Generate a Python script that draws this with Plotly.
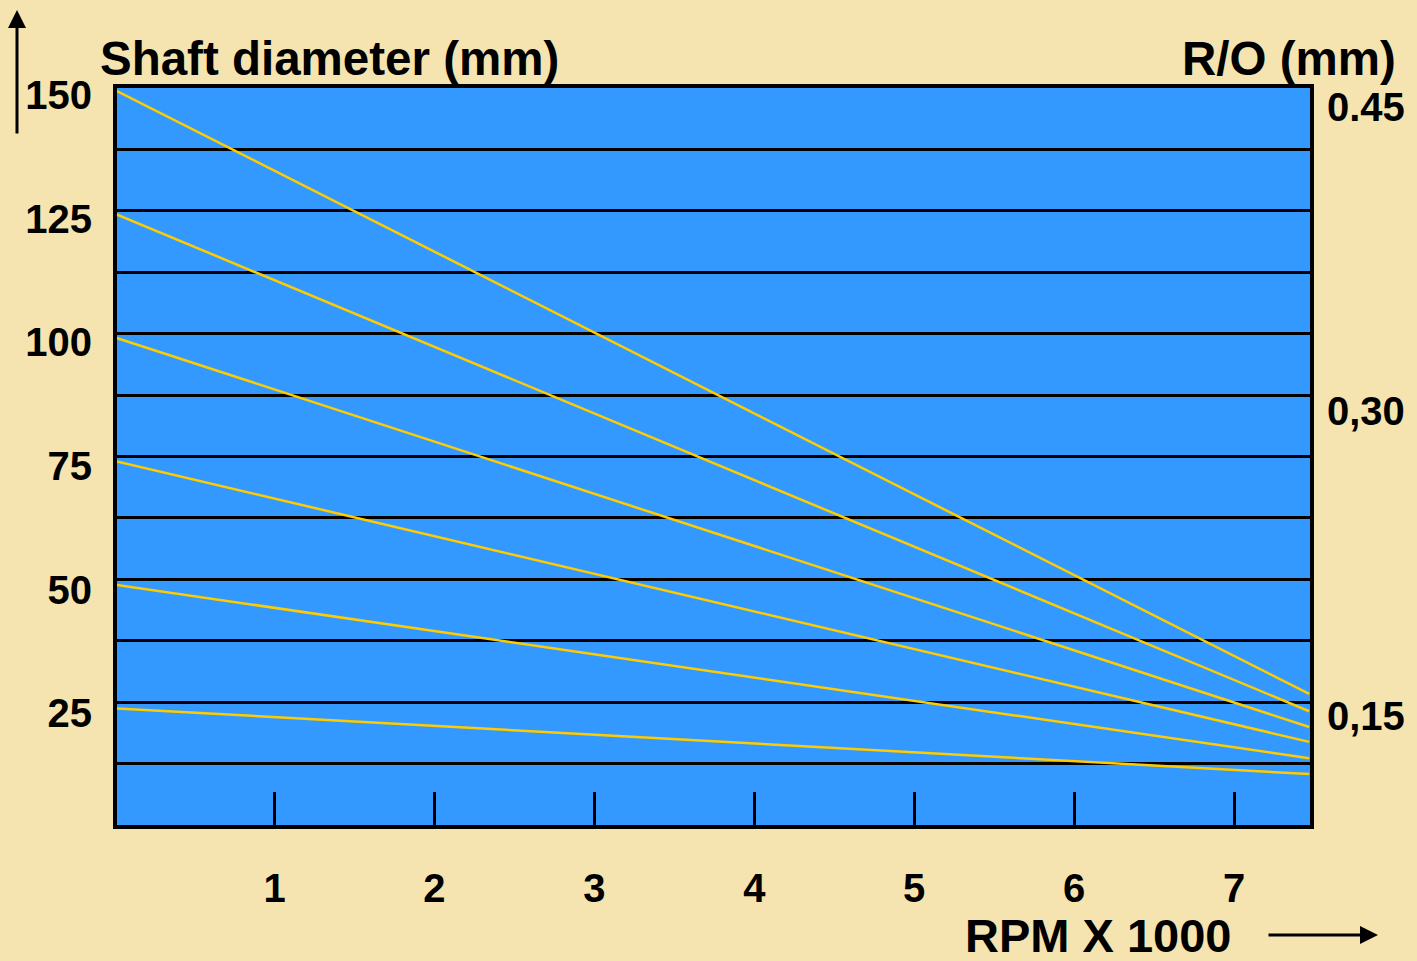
import plotly.graph_objects as go

# ---- data ----
rpm_start = 0.0
rpm_end = 7.47
shaft_start = [150, 125, 100, 75, 50, 25]
shaft_end = [27.9, 24.4, 21.2, 18.2, 14.9, 11.7]
x_ticks = [1, 2, 3, 4, 5, 6, 7]
y_ticks = [150, 125, 100, 75, 50, 25]
ro_ticks = [0.45, 0.30, 0.15]
ro_labels = ["0.45", "0,30", "0,15"]
grid_steps = list(range(0, 13))

FONT = "Liberation Sans, Arial, sans-serif"
BG = "#F5E4B0"
BLUE = "#3399FF"
GOLD = "#FFCC00"

fig = go.Figure()
for s, e in zip(shaft_start, shaft_end):
    fig.add_trace(go.Scatter(x=[rpm_start, rpm_end], y=[s, e], mode="lines",
                             line=dict(color=GOLD, width=2.5), showlegend=False,
                             hoverinfo="skip", yaxis="y"))

# dummy traces to activate the helper axes
fig.add_trace(go.Scatter(x=[None], y=[None], yaxis="y2", showlegend=False))
fig.add_trace(go.Scatter(x=[None], y=[None], yaxis="y3", showlegend=False))

fig.update_layout(
    width=1417, height=961,
    margin=dict(l=117, r=107, t=88, b=136),
    paper_bgcolor=BG, plot_bgcolor=BLUE,
    font=dict(family=FONT, color="black"),
    xaxis=dict(range=[0.015, 7.475], tickmode="array", tickvals=x_ticks,
               ticks="inside", ticklen=33, tickwidth=3, tickcolor="black",
               showgrid=False, zeroline=False, showline=True, linewidth=4,
               linecolor="black", mirror=True, ticklabelstandoff=25,
               tickfont=dict(size=40, weight="bold", family=FONT)),
    yaxis=dict(range=[1.4, 150.4], tickmode="array", tickvals=y_ticks,
               ticks="", showgrid=False, zeroline=False, showline=True,
               linewidth=4, linecolor="black", mirror=True,
               ticklabelstandoff=13, ticklabelshift=5,
               tickfont=dict(size=40, weight="bold", family=FONT)),
    yaxis2=dict(range=[0.0964, 0.4592], overlaying="y", side="right",
                tickmode="array", tickvals=ro_ticks, ticktext=ro_labels,
                ticks="", showgrid=False, zeroline=False, showline=False,
                ticklabelstandoff=16,
                tickfont=dict(size=40, weight="bold", family=FONT)),
    yaxis3=dict(range=[0, 12], overlaying="y", tickmode="array",
                tickvals=grid_steps, showticklabels=False, ticks="",
                showgrid=True, gridcolor="black", gridwidth=2.5,
                zeroline=False, showline=False, layer="below traces"),
)

annotations = [
    dict(text="Shaft diameter (mm)", xref="paper", yref="paper",
         x=-0.0159, y=1.0407, xanchor="left", yanchor="middle",
         showarrow=False, font=dict(size=47.5, weight="bold", family=FONT)),
    dict(text="R/O (mm)", xref="paper", yref="paper",
         x=1.0738, y=1.0407, xanchor="right", yanchor="middle",
         showarrow=False, font=dict(size=47.5, weight="bold", family=FONT)),
    dict(text="RPM X 1000", xref="paper", yref="paper",
         x=0.709, y=(825 - 935) / 737, xanchor="left", yanchor="middle",
         showarrow=False, font=dict(size=47, weight="bold", family=FONT)),
    # vertical arrow (left)
    dict(text="", xref="paper", yref="paper",
         x=(17 - 117) / 1193, y=(825 - 10) / 737,
         ax=0, ay=125, showarrow=True, arrowhead=2, arrowsize=1.2,
         arrowwidth=3, arrowcolor="black"),
    # horizontal arrow (bottom right)
    dict(text="", xref="paper", yref="paper",
         x=(1378 - 117) / 1193, y=(825 - 935) / 737,
         ax=-111, ay=0, showarrow=True, arrowhead=2, arrowsize=1.2,
         arrowwidth=3, arrowcolor="black"),
]
fig.update_layout(annotations=annotations)

fig.write_html(
    "out.html",
    config={"displayModeBar": False},
    post_script="document.body.style.margin='0';document.body.style.overflow='hidden';",
)
